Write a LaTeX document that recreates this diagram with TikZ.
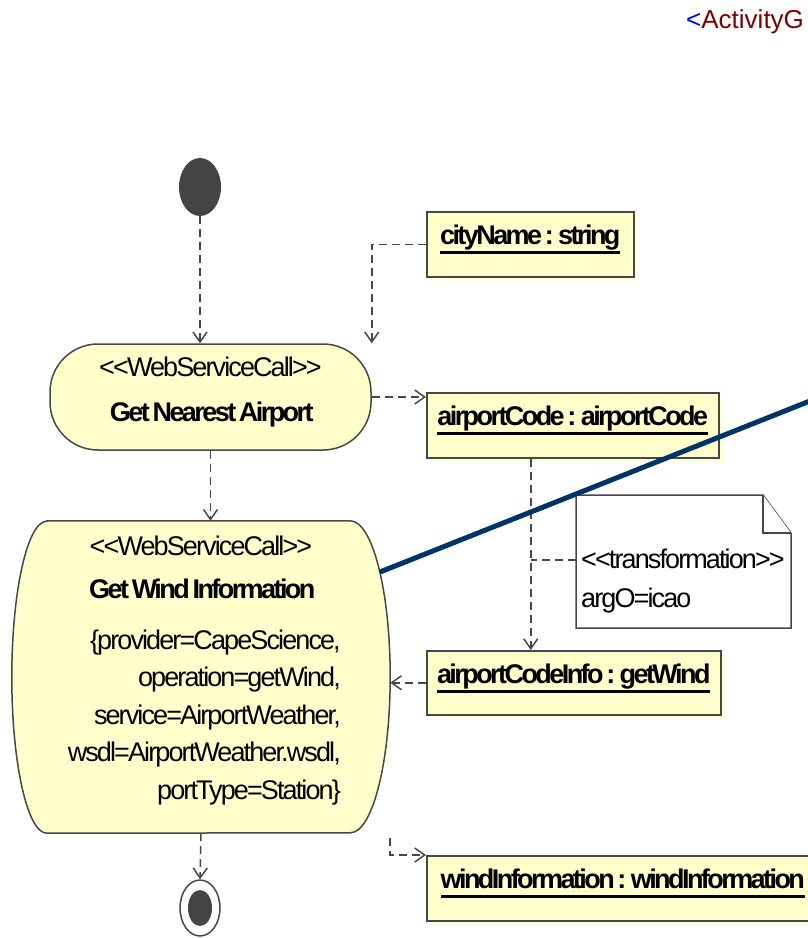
\documentclass[tikz,border=0pt]{standalone}
\usepackage{fontspec}
\setmainfont{Liberation Sans}
\newfontfamily\umlfont[LetterSpace=-7,WordSpace=0.55,BoldFeatures={LetterSpace=-9.5}]{Liberation Sans}
\usetikzlibrary{arrows.meta,backgrounds,shadows,shapes.geometric}
\definecolor{actyellow}{HTML}{FFFFCC}
\definecolor{shadyellow}{HTML}{FFFFE0}
\definecolor{linegray}{HTML}{474747}
\definecolor{dotgray}{HTML}{444444}
\definecolor{navy}{HTML}{003366}
\definecolor{hdrred}{HTML}{800000}
\newsavebox\objbox
\newcommand{\objname}[1]{\sbox\objbox{\bfseries #1}\rlap{\usebox\objbox}\rule[-9.5pt]{\wd\objbox}{3.5pt}}

\begin{document}
\begin{tikzpicture}[x=1pt,y=-1pt,% pixels
  font=\umlfont\fontsize{27}{37.5}\selectfont,
  flow/.style={draw=linegray,line width=1.5pt,dash pattern=on 8pt off 5pt,-{Straight Barb[length=10pt,width=14pt]}},
  link/.style={draw=linegray,line width=1.5pt,dash pattern=on 8pt off 5pt},
  action/.style={draw=linegray,fill=actyellow,line width=1.5pt},
  object/.style={draw=linegray,fill=actyellow,line width=1.5pt,anchor=north west,inner xsep=10pt,inner ysep=5pt,
    text height=28pt,text depth=27pt,drop shadow={fill=shadyellow,opacity=1,shadow xshift=4pt,shadow yshift=-4pt}},
  notebox/.style={draw=linegray,fill=white,line width=1.5pt}]
\useasboundingbox (0,0) rectangle (807,938);

% titre
\node[font=\fontsize{26}{30}\selectfont,anchor=base west,inner sep=0] (hdr) at (686,28) {\textcolor{blue}{<}\textcolor{hdrred}{ActivityG}};

% debut et fin
\node[ellipse,fill=dotgray,minimum width=42pt,minimum height=58pt,inner sep=0] (start) at (200,187) {};
\node[ellipse,draw=linegray,line width=1.5pt,fill=white,minimum width=40pt,minimum height=56pt,inner sep=0] (fin) at (200,908) {};
\node[ellipse,fill=dotgray,minimum width=24pt,minimum height=36pt,inner sep=0] (finDot) at (fin) {};

% actions
\node[action,rounded corners=48pt,minimum width=321pt,minimum height=106pt,inner sep=0,text height=77pt,text depth=29pt,align=center] (gna) at (210.5,397) {<{}<WebServiceCall>{}>\\[7.5pt]\textbf{Get Nearest Airport}};
\node[minimum width=378pt,minimum height=312pt,inner sep=0,text height=77pt,text depth=235pt,align=center] (gwi) at (201,677) {<{}<WebServiceCall>{}>\\[5.5pt]\textbf{Get Wind Information}};
\begin{scope}[on background layer]
\draw[action] ([xshift=35pt]gwi.north west) -- ([xshift=-40pt]gwi.north east)
  arc[start angle=90,end angle=-90,x radius=40pt,y radius=156pt] -- ([xshift=35pt]gwi.south west)
  arc[start angle=270,end angle=90,x radius=35pt,y radius=156pt] -- cycle;
\end{scope}
\node[anchor=base east,align=right,inner sep=0] (tags) at (341,799) {\{provider=CapeScience,\\operation=getWind,\\service=AirportWeather,\\wsdl=AirportWeather.wsdl,\\portType=Station\}};

% objets
\node[object,minimum width=207pt] (city) at (426,211) {\objname{cityName : string}};
\node[object,minimum width=292pt] (ac) at (426,392) {\objname{airportCode : airportCode}};
\node[object,minimum width=294pt,text depth=26pt] (aci) at (426,650) {\objname{airportCodeInfo : getWind}};
\node[object,minimum width=392pt] (wi) at (426,855) {\objname{windInformation : windInformation}};

% note
\coordinate (noteNW) at (576,495);
\coordinate (noteSE) at (791,628);
\draw[notebox] (noteNW) -- (763,495) -- (791,533) -- (noteSE) -- (noteNW |- noteSE) -- cycle;
\draw[notebox] (763,495) |- (791,533);
\node[anchor=base west,align=left,inner sep=0] (note) at (581,607) {<{}<transformation>{}>\\[1.5pt]argO=icao};

% flots
\coordinate (acx) at ([xshift=-42pt]ac.south);
\coordinate (noteL) at (576,560);
\draw[flow] (start) -- (start |- gna.north);
\draw[flow] (gna) -- (gna |- gwi.north);
\draw[flow] (city.west) -| (gna.north east);
\draw[flow] (gna.east) -- (gna.east -| ac.west);
\draw[flow] (acx) -- (acx |- aci.north);
\draw[link] (noteL) -- (acx |- noteL);
\draw[flow] (aci.west) -- (aci.west -| gwi.east);
\draw[flow] (gwi.south) -- (fin.north);
\draw[flow] ([yshift=-5pt]gwi.south east) |- (wi.north west);

% trait bleu
\coordinate (gwiEdge) at (380,572);
\coordinate (offRight) at (830,393);
\draw[navy,line width=5pt] (gwiEdge) -- (offRight);
\end{tikzpicture}
\end{document}
